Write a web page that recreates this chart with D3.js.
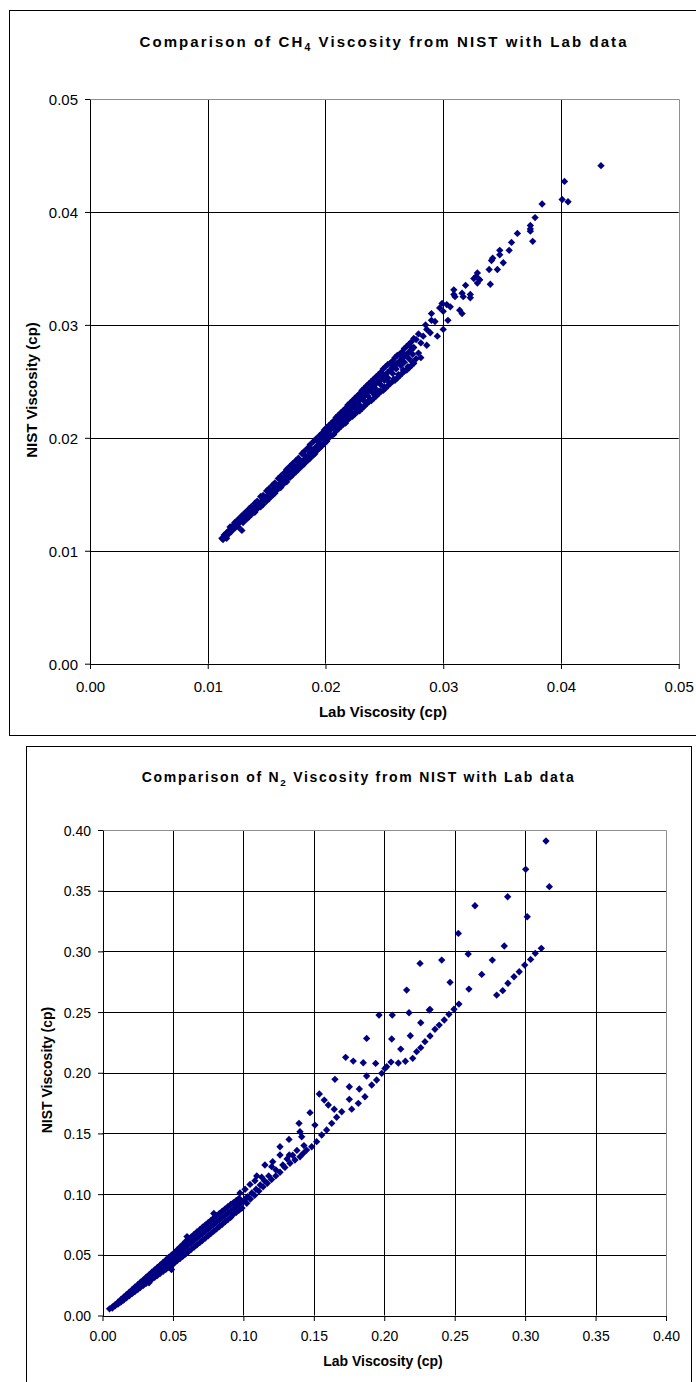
<!DOCTYPE html>
<html><head><meta charset="utf-8">
<script src="https://cdn.jsdelivr.net/npm/d3@7"></script>
<style>
body{margin:0;background:#fff}
svg{display:block}
text{font-family:"Liberation Sans",Arial,Helvetica,sans-serif;fill:#000}
</style>
</head><body>
<svg id="c" width="696" height="1382"></svg>
<script>
// ---------------- DATA ----------------
const ch4Ticks = [0, 0.01, 0.02, 0.03, 0.04, 0.05];
const n2Ticks = [0, 0.05, 0.10, 0.15, 0.20, 0.25, 0.30, 0.35, 0.40];

// [Lab viscosity (cp), NIST viscosity (cp)] — CH4
const ch4Data = [
[0.0112,0.0111],[0.0113,0.0110],[0.0114,0.0114],[0.0115,0.0112],
[0.0116,0.0116],[0.0116,0.0111],[0.0118,0.0118],[0.0118,0.0115],
[0.0119,0.0121],[0.0120,0.0117],[0.0121,0.0122],[0.0121,0.0119],
[0.0123,0.0125],[0.0123,0.0120],[0.0123,0.0122],[0.0125,0.0126],[0.0125,0.0123],
[0.0126,0.0128],[0.0126,0.0121],[0.0127,0.0125],
[0.0129,0.0131],[0.0129,0.0127],[0.0129,0.0118],[0.0130,0.0129],[0.0130,0.0125],
[0.0132,0.0134],[0.0132,0.0130],[0.0133,0.0132],[0.0133,0.0128],
[0.0135,0.0137],[0.0135,0.0133],[0.0135,0.0130],
[0.0137,0.0139],[0.0137,0.0135],[0.0137,0.0132],[0.0138,0.0137],
[0.0140,0.0142],[0.0140,0.0138],[0.0140,0.0134],
[0.0142,0.0144],[0.0142,0.0140],[0.0142,0.0137],[0.0143,0.0142],
[0.0145,0.0148],[0.0145,0.0143],[0.0145,0.0139],
[0.0147,0.0149],[0.0147,0.0145],[0.0147,0.0141],[0.0148,0.0147],
[0.0150,0.0153],[0.0150,0.0148],[0.0150,0.0144],
[0.0152,0.0155],[0.0152,0.0150],[0.0152,0.0146],[0.0153,0.0152],[0.0153,0.0148],
[0.0155,0.0158],[0.0155,0.0153],[0.0155,0.0149],
[0.0157,0.0160],[0.0157,0.0155],[0.0157,0.0151],[0.0158,0.0157],[0.0158,0.0153],
[0.0160,0.0164],[0.0160,0.0158],[0.0160,0.0155],
[0.0162,0.0166],[0.0162,0.0160],[0.0162,0.0156],[0.0163,0.0163],[0.0163,0.0158],
[0.0165,0.0169],[0.0165,0.0163],[0.0165,0.0160],
[0.0167,0.0172],[0.0167,0.0166],[0.0167,0.0161],[0.0168,0.0169],[0.0168,0.0164],
[0.0170,0.0175],[0.0170,0.0169],[0.0170,0.0165],
[0.0172,0.0177],[0.0172,0.0171],[0.0172,0.0167],[0.0173,0.0174],[0.0173,0.0169],
[0.0175,0.0180],[0.0175,0.0174],[0.0175,0.0170],
[0.0177,0.0182],[0.0177,0.0176],[0.0177,0.0172],[0.0178,0.0179],[0.0178,0.0174],
[0.0180,0.0186],[0.0180,0.0179],[0.0180,0.0175],
[0.0182,0.0188],[0.0182,0.0181],[0.0182,0.0177],[0.0183,0.0184],[0.0183,0.0179],
[0.0185,0.0191],[0.0185,0.0184],[0.0185,0.0180],
[0.0187,0.0194],[0.0187,0.0187],[0.0187,0.0182],[0.0188,0.0190],[0.0188,0.0185],
[0.0190,0.0197],[0.0190,0.0189],[0.0190,0.0185],[0.0191,0.0186],
[0.0192,0.0199],[0.0192,0.0192],[0.0192,0.0188],[0.0194,0.0196],[0.0194,0.0190],
[0.0195,0.0202],[0.0195,0.0194],[0.0195,0.0191],
[0.0197,0.0204],[0.0197,0.0199],[0.0197,0.0193],
[0.0199,0.0207],[0.0199,0.0201],[0.0199,0.0195],
[0.0201,0.0209],[0.0201,0.0203],[0.0201,0.0197],
[0.0203,0.0211],[0.0203,0.0206],[0.0203,0.0200],
[0.0205,0.0213],[0.0205,0.0208],[0.0205,0.0202],
[0.0207,0.0215],[0.0207,0.0210],[0.0207,0.0203],
[0.0209,0.0218],[0.0209,0.0213],[0.0209,0.0206],
[0.0211,0.0220],[0.0211,0.0215],[0.0211,0.0208],
[0.0213,0.0222],[0.0213,0.0217],[0.0213,0.0210],
[0.0215,0.0224],[0.0215,0.0219],[0.0215,0.0212],
[0.0217,0.0226],[0.0217,0.0221],[0.0217,0.0213],
[0.0219,0.0229],[0.0219,0.0223],[0.0219,0.0216],
[0.0221,0.0231],[0.0221,0.0225],[0.0221,0.0218],
[0.0223,0.0233],[0.0223,0.0227],[0.0223,0.0219],
[0.0225,0.0235],[0.0225,0.0229],[0.0225,0.0221],
[0.0227,0.0237],[0.0227,0.0231],[0.0227,0.0223],
[0.0229,0.0239],[0.0229,0.0233],[0.0229,0.0224],
[0.0231,0.0242],[0.0231,0.0235],[0.0231,0.0226],
[0.0233,0.0244],[0.0233,0.0237],[0.0233,0.0228],
[0.0235,0.0246],[0.0235,0.0240],[0.0235,0.0230],
[0.0237,0.0248],[0.0237,0.0242],[0.0237,0.0232],
[0.0239,0.0250],[0.0239,0.0244],[0.0239,0.0233],
[0.0241,0.0252],[0.0241,0.0246],[0.0241,0.0235],
[0.0243,0.0254],[0.0243,0.0248],[0.0243,0.0237],
[0.0245,0.0256],[0.0245,0.0250],[0.0245,0.0239],
[0.0247,0.0258],[0.0247,0.0252],[0.0247,0.0241],
[0.0249,0.0261],[0.0249,0.0254],[0.0249,0.0242],
[0.0251,0.0263],[0.0251,0.0256],[0.0251,0.0244],
[0.0253,0.0265],[0.0253,0.0258],[0.0253,0.0246],
[0.0255,0.0266],[0.0255,0.0260],[0.0255,0.0248],
[0.0257,0.0268],[0.0257,0.0262],[0.0257,0.0250],
[0.0259,0.0271],[0.0259,0.0264],[0.0259,0.0251],
[0.0261,0.0273],[0.0261,0.0266],[0.0261,0.0253],
[0.0263,0.0274],[0.0263,0.0268],[0.0263,0.0255],
[0.0265,0.0276],[0.0265,0.0270],[0.0265,0.0257],
[0.0267,0.0279],[0.0267,0.0272],[0.0267,0.0259],
[0.0269,0.0281],[0.0269,0.0274],[0.0269,0.0260],
[0.0271,0.0283],[0.0271,0.0276],[0.0271,0.0262],
[0.0273,0.0285],[0.0273,0.0278],[0.0273,0.0264],
[0.0275,0.0288],[0.0275,0.0280],[0.0275,0.0266],
[0.0214,0.0213],[0.0218,0.0216],[0.0222,0.0220],[0.0226,0.0223],
[0.0230,0.0227],[0.0234,0.0231],[0.0238,0.0234],[0.0242,0.0238],
[0.0246,0.0241],[0.0250,0.0245],[0.0254,0.0249],[0.0258,0.0252],
[0.0262,0.0256],[0.0266,0.0260],[0.0270,0.0263],[0.0274,0.0267],
[0.0212,0.0212],[0.0215,0.0216],[0.0219,0.0219],[0.0222,0.0223],
[0.0226,0.0226],[0.0229,0.0229],[0.0233,0.0233],[0.0236,0.0237],
[0.0240,0.0240],[0.0243,0.0243],[0.0247,0.0247],[0.0250,0.0251],
[0.0253,0.0253],[0.0257,0.0257],[0.0260,0.0261],[0.0264,0.0264],
[0.0267,0.0267],[0.0271,0.0270],[0.0274,0.0274],
[0.0216,0.0224],[0.0224,0.0231],[0.0232,0.0240],[0.0240,0.0249],
[0.0248,0.0257],[0.0256,0.0265],[0.0264,0.0273],[0.0272,0.0281],
[0.0277,0.0287],[0.0277,0.0270],[0.0279,0.0292],[0.0279,0.0275],
[0.0281,0.0284],[0.0281,0.0271],[0.0283,0.0290],
[0.0285,0.0300],[0.0286,0.0296],[0.0286,0.0282],[0.0289,0.0293],
[0.0290,0.0310],[0.0290,0.0304],[0.0293,0.0303],[0.0295,0.0290],
[0.0297,0.0315],[0.0299,0.0319],[0.0300,0.0312],[0.0300,0.0296],
[0.0303,0.0318],[0.0304,0.0304],[0.0306,0.0316],
[0.0309,0.0331],[0.0309,0.0327],[0.0310,0.0325],
[0.0314,0.0313],[0.0316,0.0328],[0.0316,0.0310],[0.0317,0.0325],
[0.0319,0.0335],[0.0323,0.0327],[0.0323,0.0324],
[0.0326,0.0341],[0.0328,0.0343],[0.0329,0.0346],[0.0329,0.0337],[0.0331,0.0340],
[0.0339,0.0349],[0.0340,0.0336],[0.0341,0.0357],[0.0342,0.0359],
[0.0346,0.0349],[0.0348,0.0366],[0.0348,0.0362],[0.0351,0.0355],
[0.0356,0.0366],[0.0358,0.0373],[0.0363,0.0381],
[0.0374,0.0388],[0.0374,0.0385],[0.0374,0.0383],[0.0376,0.0374],
[0.0378,0.0395],[0.0384,0.0407],
[0.0401,0.0411],[0.0403,0.0427],[0.0406,0.0409],
[0.0434,0.0441]
];

// [Lab viscosity (cp), NIST viscosity (cp)] — N2
const n2Data = [
[0.005,0.0055],
[0.007,0.0070],[0.007,0.0062],
[0.009,0.0090],[0.009,0.0080],
[0.011,0.0110],[0.011,0.0100],[0.011,0.0094],
[0.013,0.0131],[0.013,0.0120],[0.013,0.0110],
[0.015,0.0152],[0.015,0.0140],[0.015,0.0128],
[0.017,0.0172],[0.017,0.0159],[0.017,0.0146],
[0.019,0.0192],[0.019,0.0178],[0.019,0.0163],
[0.021,0.0213],[0.021,0.0197],[0.021,0.0180],
[0.023,0.0234],[0.023,0.0216],[0.023,0.0198],
[0.025,0.0254],[0.025,0.0235],[0.025,0.0214],
[0.027,0.0274],[0.027,0.0254],[0.027,0.0232],
[0.029,0.0294],[0.029,0.0272],[0.029,0.0248],
[0.031,0.0315],[0.031,0.0291],[0.031,0.0266],
[0.033,0.0335],[0.033,0.0310],[0.033,0.0270],
[0.035,0.0356],[0.035,0.0330],[0.035,0.0298],
[0.037,0.0376],[0.037,0.0348],[0.037,0.0314],
[0.039,0.0396],[0.039,0.0367],[0.039,0.0330],
[0.041,0.0417],[0.041,0.0386],[0.041,0.0348],
[0.043,0.0437],[0.043,0.0405],[0.043,0.0363],
[0.045,0.0458],[0.045,0.0424],[0.045,0.0380],
[0.047,0.0478],[0.047,0.0443],[0.047,0.0398],
[0.049,0.0498],[0.049,0.0462],[0.049,0.0378],[0.049,0.0415],
[0.051,0.0518],[0.051,0.0481],[0.051,0.0432],
[0.053,0.0540],[0.053,0.0500],[0.053,0.0452],
[0.055,0.0562],[0.055,0.0520],[0.055,0.0470],
[0.057,0.0585],[0.057,0.0540],[0.057,0.0488],
[0.059,0.0610],[0.059,0.0560],[0.059,0.0507],
[0.060,0.0650],
[0.061,0.0628],[0.061,0.0580],[0.061,0.0526],
[0.063,0.0648],[0.063,0.0599],[0.063,0.0545],
[0.065,0.0668],[0.065,0.0618],[0.065,0.0563],
[0.067,0.0688],[0.067,0.0637],[0.067,0.0582],
[0.069,0.0707],[0.069,0.0656],[0.069,0.0600],
[0.071,0.0727],[0.071,0.0675],[0.071,0.0619],
[0.073,0.0746],[0.073,0.0694],[0.073,0.0638],
[0.075,0.0765],[0.075,0.0713],[0.075,0.0657],
[0.077,0.0784],[0.077,0.0732],[0.077,0.0676],
[0.079,0.0840],[0.079,0.0803],[0.079,0.0751],[0.079,0.0695],
[0.081,0.0822],[0.081,0.0770],[0.081,0.0714],
[0.083,0.0840],[0.083,0.0788],[0.083,0.0733],
[0.085,0.0859],[0.085,0.0806],[0.085,0.0752],
[0.087,0.0878],[0.087,0.0825],[0.087,0.0771],
[0.089,0.0897],[0.089,0.0843],[0.089,0.0790],
[0.091,0.0915],[0.091,0.0862],[0.091,0.0808],
[0.093,0.0930],[0.093,0.0880],[0.093,0.0835],
[0.095,0.0948],[0.095,0.0899],[0.095,0.0850],
[0.097,0.0965],[0.097,0.0918],[0.097,0.0868],
[0.0976,0.1010],[0.099,0.0937],[0.099,0.0885],
[0.1012,0.1040],[0.101,0.0955],[0.1024,0.0925],
[0.1047,0.1080],[0.103,0.0980],[0.1050,0.0960],
[0.1082,0.1110],[0.1060,0.1010],[0.1080,0.0990],
[0.1095,0.1150],[0.1090,0.1040],[0.1110,0.1025],
[0.1130,0.1140],[0.1120,0.1075],[0.1140,0.1060],
[0.1150,0.1110],[0.1170,0.1090],[0.1180,0.1150],
[0.1200,0.1120],[0.1230,0.1150],[0.1230,0.1200],
[0.1260,0.1180],[0.1280,0.1240],[0.1295,0.1220],
[0.1310,0.1290],[0.1331,0.1254],[0.1350,0.1320],
[0.1366,0.1281],[0.1380,0.1360],[0.1402,0.1308],
[0.1425,0.1336],[0.1430,0.1400],[0.1449,0.1363],
[0.1485,0.1390],[0.1520,0.1432],[0.1556,0.1487],
[0.1591,0.1528],[0.1627,0.1583],[0.1662,0.1633],
[0.1698,0.1679],[0.1769,0.1700],[0.1816,0.1748],
[0.1863,0.1802],[0.1911,0.1899],[0.1946,0.1940],
[0.1982,0.1995],[0.2005,0.2036],[0.2017,0.2050],
[0.2048,0.2088],[0.2100,0.2080],[0.2150,0.2095],
[0.2202,0.2119],[0.2230,0.2174],[0.2259,0.2207],
[0.2289,0.2256],[0.2325,0.2303],[0.2360,0.2358],
[0.2390,0.2393],[0.2426,0.2435],[0.2459,0.2481],
[0.2495,0.2523],[0.2530,0.2566],
[0.2798,0.2640],[0.2841,0.2676],[0.2878,0.2737],
[0.2921,0.2791],[0.2958,0.2832],[0.2997,0.2887],
[0.3039,0.2934],[0.3072,0.2984],[0.3115,0.3025],
[0.1153,0.1240],[0.1201,0.1226],[0.1208,0.1267],
[0.1260,0.1322],[0.1326,0.1322],[0.1260,0.1390],
[0.1324,0.1451],[0.1395,0.1583],[0.1402,0.1514],
[0.1414,0.1473],[0.1473,0.1671],[0.1508,0.1569],
[0.1539,0.1825],[0.1574,0.1775],[0.1603,0.1734],
[0.1645,0.1699],[0.1650,0.1946],[0.1726,0.2127],
[0.1780,0.2096],[0.1752,0.1885],[0.1823,0.1866],
[0.1752,0.1781],[0.1851,0.2082],[0.1939,0.2077],
[0.1875,0.1973],[0.1875,0.2283],[0.2053,0.2278],
[0.2185,0.2305],[0.2117,0.2195],[0.1963,0.2475],
[0.2057,0.2475],[0.2176,0.2494],[0.2320,0.2517],
[0.2259,0.2412],[0.2159,0.2681],[0.2254,0.2901],
[0.2408,0.2928],[0.2467,0.2745],[0.2325,0.2522],
[0.2526,0.3148],[0.2596,0.2978],[0.2601,0.2689],
[0.2644,0.3376],[0.2692,0.2810],[0.2767,0.2928],
[0.2852,0.3044],[0.2876,0.3450],[0.3004,0.3676],
[0.3015,0.3285],[0.3148,0.3909],[0.3172,0.3533]
];

// ---------------- DRAW ----------------
const svg = d3.select("#c");
const fmt = d3.format(".2f");
const crisp = v => Math.round(v) + 0.5;

function drawChart(o) {
  const g = svg.append("g");
  g.append("rect").attr("x", o.frame[0] + 0.5).attr("y", o.frame[1] + 0.5)
    .attr("width", o.frame[2]).attr("height", o.frame[3])
    .attr("fill", "#fff").attr("stroke", "#000").attr("stroke-width", 1);

  const x = d3.scaleLinear().domain(o.domain).range([o.plot[0], o.plot[1]]);
  const y = d3.scaleLinear().domain(o.domain).range([o.plot[2], o.plot[3]]);
  const ticks = o.ticks;
  const last = ticks[ticks.length - 1];

  const grid = g.append("g");
  grid.selectAll("line.v").data(ticks.slice(1, -1)).join("line")
    .attr("x1", d => crisp(x(d))).attr("x2", d => crisp(x(d)))
    .attr("y1", y(0)).attr("y2", y(last))
    .attr("stroke", "#000").attr("stroke-width", 1);
  grid.selectAll("line.h").data(ticks.slice(1, -1)).join("line")
    .attr("y1", d => crisp(y(d))).attr("y2", d => crisp(y(d)))
    .attr("x1", x(0)).attr("x2", x(last))
    .attr("stroke", "#000").attr("stroke-width", 1);
  g.append("path")
    .attr("d", `M${crisp(x(0))},${crisp(y(last))}H${crisp(x(last))}V${crisp(y(0))}`)
    .attr("fill", "none").attr("stroke", "#909090").attr("stroke-width", 1);

  const sym = d3.symbol().type(d3.symbolSquare).size(27)();
  g.append("g").selectAll("path").data(o.data).join("path")
    .attr("d", sym)
    .attr("transform", d => `translate(${x(d[0])},${y(d[1])}) rotate(45)`)
    .attr("fill", "#000080");

  const xAxis = d3.axisBottom(x).tickValues(ticks).tickFormat(fmt).tickSize(5).tickSizeOuter(0);
  const yAxis = d3.axisLeft(y).tickValues(ticks).tickFormat(fmt).tickSize(5).tickSizeOuter(0);
  const gx = g.append("g").attr("transform", `translate(0,${crisp(y(0)) - 0.5})`).call(xAxis);
  const gy = g.append("g").attr("transform", `translate(${crisp(x(0)) - 0.5},0)`).call(yAxis);
  [gx, gy].forEach(a => {
    a.select(".domain").attr("stroke", "#000");
    a.selectAll(".tick line").attr("stroke", "#000");
    a.selectAll(".tick text").attr("font-size", o.tickFont)
      .attr("font-family", '"Liberation Sans",Arial,sans-serif').attr("fill", "#000");
  });
  gx.selectAll(".tick text").attr("y", o.xLabelDy).attr("dy", null);
  gy.selectAll(".tick text").attr("x", -o.yLabelDx).attr("dy", "0.36em");

  const t = g.append("text").attr("x", o.titlePos[0]).attr("y", o.titlePos[1])
    .attr("font-size", o.titleFont).attr("font-weight", "bold");
  t.append("tspan").text(o.title[0]);
  t.append("tspan").text(o.title[1]).attr("dy", 4).attr("font-size", o.titleFont * 0.7);
  t.append("tspan").text(o.title[2]).attr("dy", -4);
  const nat = t.node().getComputedTextLength();
  const nChars = (o.title[0] + o.title[1] + o.title[2]).length;
  t.attr("letter-spacing", Math.max(0, (o.titleWidth - nat) / (nChars - 1)));

  g.append("text").attr("x", o.xTitlePos[0]).attr("y", o.xTitlePos[1])
    .attr("text-anchor", "middle").attr("font-size", o.axisFont).attr("font-weight", "bold")
    .text("Lab Viscosity (cp)");
  g.append("text").attr("transform", `translate(${o.yTitlePos[0]},${o.yTitlePos[1]}) rotate(-90)`)
    .attr("text-anchor", "middle").attr("font-size", o.axisFont).attr("font-weight", "bold")
    .text("NIST Viscosity (cp)");
}

drawChart({
  frame: [9, 10, 760, 725],
  plot: [90, 678.7, 663.7, 99],
  domain: [0, 0.05],
  ticks: ch4Ticks,
  data: ch4Data,
  tickFont: 15, xLabelDy: 28, yLabelDx: 12,
  title: ["Comparison of CH", "4", " Viscosity from NIST with Lab data"],
  titlePos: [139.5, 47], titleFont: 15, titleWidth: 487,
  xTitlePos: [383, 717], yTitlePos: [36.5, 390], axisFont: 15
});

drawChart({
  frame: [26, 746, 665, 700],
  plot: [102.5, 666, 1315.5, 830],
  domain: [0, 0.4],
  ticks: n2Ticks,
  data: n2Data,
  tickFont: 14, xLabelDy: 25, yLabelDx: 12,
  title: ["Comparison of N", "2", " Viscosity from NIST with Lab data"],
  titlePos: [141.7, 782], titleFont: 14, titleWidth: 432,
  xTitlePos: [383, 1366], yTitlePos: [52, 1070], axisFont: 14
});
</script>
</body></html>
